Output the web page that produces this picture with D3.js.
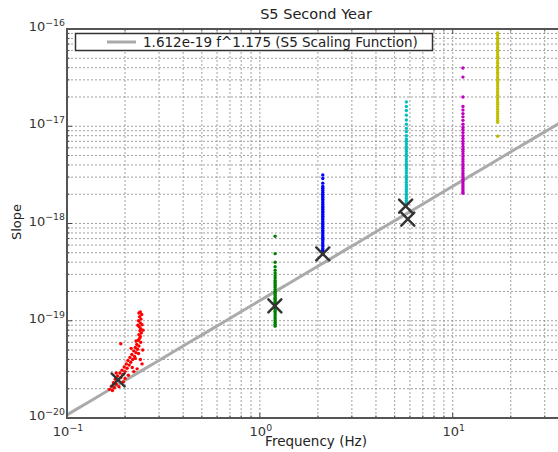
<!DOCTYPE html>
<html>
<head>
<meta charset="utf-8">
<script src="https://cdn.jsdelivr.net/npm/d3@7"></script>
<style>
  body { margin: 0; background: #fff; }
  svg { font-family: 'DejaVu Sans', sans-serif; }
</style>
</head>
<body>
<div id="container"></div>
<script>
// fit: slope = 1.612e-19 * f^1.175
const fitAmp = 1.612e-19;
const fitExp = 1.175;
const legendText = '1.612e-19 f^1.175 (S5 Scaling Function)';

const xTicks = [0.1, 1, 10];
const yTicks = [1e-20, 1e-19, 1e-18, 1e-17, 1e-16];

// red cluster: [frequency, slope in 1e-20]
const redPoints = [
  [0.240, 12.3], [0.236, 12.0], [0.244, 11.6], [0.238, 11.0], [0.242, 10.4],
  [0.235, 10.0], [0.240, 9.5], [0.245, 9.1], [0.237, 8.7], [0.241, 8.3],
  [0.239, 7.9], [0.243, 7.5], [0.236, 7.2], [0.240, 6.9], [0.238, 6.6],
  [0.234, 6.3], [0.241, 6.0], [0.230, 5.7], [0.236, 5.5], [0.226, 5.3],
  [0.232, 5.1], [0.222, 4.9], [0.228, 4.7], [0.217, 4.5], [0.224, 4.3],
  [0.212, 4.2], [0.219, 4.0], [0.207, 3.9], [0.214, 3.75], [0.203, 3.6],
  [0.210, 3.5], [0.198, 3.35], [0.205, 3.25], [0.193, 3.1], [0.200, 3.0],
  [0.188, 2.9], [0.195, 2.8], [0.183, 2.7], [0.190, 2.6], [0.178, 2.5],
  [0.185, 2.42], [0.174, 2.3], [0.180, 2.22], [0.170, 2.12], [0.176, 2.05],
  [0.166, 1.97], [0.172, 1.92], [0.190, 5.8], [0.240, 4.0], [0.231, 3.2],
  [0.245, 3.6], [0.226, 4.1], [0.218, 3.3], [0.208, 2.75], [0.196, 2.35],
  [0.215, 5.2], [0.228, 6.2], [0.247, 5.0], [0.200, 2.55], [0.186, 2.1],
  [0.222, 3.0], [0.235, 4.6], [0.180, 2.9], [0.248, 8.0], [0.233, 9.0]
];

// vertical columns: one frequency, slopes read top to bottom
const greenFreq = 1.2;
const greenSlopes = [7.4, 4.9, 4.0, 3.6, 3.3, 3.1, 2.9, 2.75, 2.6, 2.5, 2.4, 2.3,
  2.2, 2.1, 2.0, 1.95, 1.9, 1.82, 1.75, 1.7, 1.65, 1.6, 1.55, 1.5, 1.45, 1.4,
  1.35, 1.3, 1.25, 1.2, 1.15, 1.1, 1.05, 1.0, 0.96, 0.92, 0.88]; // 1e-19

const blueFreq = 2.12;
const blueSlopes = [3.15, 2.9, 2.6, 2.4, 2.3, 2.2, 2.1, 2.0, 1.92, 1.85, 1.78,
  1.7, 1.63, 1.57, 1.5, 1.45, 1.4, 1.34, 1.29, 1.24, 1.19, 1.14, 1.1, 1.05,
  1.01, 0.97, 0.93, 0.89, 0.85, 0.82, 0.78, 0.75, 0.72, 0.69, 0.66, 0.63, 0.6,
  0.58, 0.55, 0.53, 0.51, 0.49]; // 1e-18

const cyanFreq = 5.75;
const cyanSlopes = [1.78, 1.6, 1.45, 1.3, 1.16, 1.05, 0.95, 0.88, 0.8, 0.74,
  0.7, 0.66, 0.62, 0.58, 0.55, 0.52, 0.49, 0.46, 0.435, 0.41, 0.39, 0.37, 0.35,
  0.33, 0.31, 0.295, 0.28, 0.265, 0.25, 0.237, 0.225, 0.213, 0.202, 0.192,
  0.182, 0.173, 0.165, 0.158]; // 1e-17

const magentaFreq = 11.3;
const magentaSlopes = [3.97, 3.2, 2.0, 1.6, 1.47, 1.35, 1.25, 1.15, 1.05, 0.97,
  0.92, 0.86, 0.8, 0.75, 0.7, 0.66, 0.62, 0.58, 0.55, 0.52, 0.49, 0.46, 0.435,
  0.41, 0.39, 0.37, 0.35, 0.33, 0.315, 0.3, 0.285, 0.27, 0.257, 0.245, 0.233,
  0.222, 0.212, 0.205]; // 1e-17

const yellowFreq = 17.1;
const yellowSlopes = [9.1, 8.6, 8.1, 7.7, 7.3, 6.9, 6.5, 6.2, 5.85, 5.55, 5.25,
  5.0, 4.7, 4.45, 4.2, 4.0, 3.8, 3.6, 3.4, 3.2, 3.05, 2.9, 2.75, 2.6, 2.45, 2.32,
  2.2, 2.08, 1.97, 1.87, 1.77, 1.68, 1.59, 1.5, 1.42, 1.35, 1.28, 1.21, 1.15,
  1.1, 0.79]; // 1e-17

// black crosses: [frequency, slope]
const crosses = [[0.184, 2.46e-20], [1.196, 1.42e-19], [2.12, 4.86e-19],
  [5.7, 1.51e-18], [5.85, 1.11e-18]];

const width = 558, height = 452;
const margin = { top: 29, left: 67, bottom: 34 };

let svg = d3.select('#container').append('svg')
  .attr('width', width)
  .attr('height', height);

let x = d3.scaleLog().domain([0.1, 36]).range([margin.left, 560]);
let y = d3.scaleLog().domain([1e-20, 1e-16]).range([height - margin.bottom, margin.top]);

main();

function main() {
  drawGrid();
  drawFit();
  drawPoints();
  drawFrame();
  drawLegend();
  drawText();
}

function minorValues(scale) {
  let [a, b] = scale.domain();
  let out = [];
  for (let e = Math.floor(Math.log10(a)); e <= Math.ceil(Math.log10(b)); e++) {
    for (let k = 1; k < 10; k++) {
      let v = k * Math.pow(10, e);
      if (v >= a * 0.999 && v <= b * 1.001) out.push(v);
    }
  }
  return out;
}

function drawGrid() {
  let g = svg.append('g').attr('class', 'grid')
    .attr('stroke', '#888')
    .attr('stroke-width', 0.8)
    .attr('stroke-dasharray', '2,2');

  g.selectAll('.gx').data(minorValues(x)).enter().append('line')
    .attr('x1', (d) => x(d)).attr('x2', (d) => x(d))
    .attr('y1', y.range()[0]).attr('y2', y.range()[1]);

  g.selectAll('.gy').data(minorValues(y)).enter().append('line')
    .attr('y1', (d) => y(d)).attr('y2', (d) => y(d))
    .attr('x1', x.range()[0]).attr('x2', x.range()[1]);
}

function drawFit() {
  let fs = d3.range(-1, Math.log10(36) + 0.01, 0.05).map((e) => Math.pow(10, e));
  let line = d3.line()
    .x((d) => x(d))
    .y((d) => y(fitAmp * Math.pow(d, fitExp)));
  svg.append('path')
    .datum(fs)
    .attr('d', line)
    .attr('fill', 'none')
    .attr('stroke', '#aaa')
    .attr('stroke-width', 3);
}

function drawPoints() {
  let series = [
    { color: '#ff0000', pts: redPoints.map((d) => [d[0], d[1] * 1e-20]) },
    { color: '#008000', pts: greenSlopes.map((s) => [greenFreq, s * 1e-19]) },
    { color: '#0000ff', pts: blueSlopes.map((s) => [blueFreq, s * 1e-18]) },
    { color: '#00bfbf', pts: cyanSlopes.map((s) => [cyanFreq, s * 1e-17]) },
    { color: '#bf00bf', pts: magentaSlopes.map((s) => [magentaFreq, s * 1e-17]) },
    { color: '#bfbf00', pts: yellowSlopes.map((s) => [yellowFreq, s * 1e-17]) }
  ];

  series.forEach((s) => {
    svg.append('g')
      .selectAll('circle')
      .data(s.pts)
      .enter()
      .append('circle')
      .attr('cx', (d) => x(d[0]))
      .attr('cy', (d) => y(d[1]))
      .attr('r', 1.7)
      .attr('fill', s.color);
  });

  let cg = svg.append('g')
    .attr('stroke', '#333')
    .attr('stroke-width', 2.5)
    .attr('stroke-linecap', 'round');
  cg.selectAll('path')
    .data(crosses)
    .enter()
    .append('path')
    .attr('d', (d) => {
      let cx = x(d[0]), cy = y(d[1]), r = 6.5;
      return `M${cx - r},${cy - r}L${cx + r},${cy + r}M${cx - r},${cy + r}L${cx + r},${cy - r}`;
    });
}

function drawFrame() {
  let [x0, x1] = x.range();
  let [y0, y1] = y.range();

  let ticks = svg.append('g').attr('stroke', '#444').attr('stroke-width', 1);
  let minorX = minorValues(x);
  let minorY = minorValues(y);

  ticks.selectAll('.tx').data(minorX).enter().append('line')
    .attr('x1', (d) => x(d)).attr('x2', (d) => x(d))
    .attr('y1', y0).attr('y2', (d) => y0 - (xTicks.includes(d) ? 5 : 2.5));
  ticks.selectAll('.tx2').data(minorX).enter().append('line')
    .attr('x1', (d) => x(d)).attr('x2', (d) => x(d))
    .attr('y1', y1).attr('y2', (d) => y1 + (xTicks.includes(d) ? 5 : 2.5));
  ticks.selectAll('.ty').data(minorY).enter().append('line')
    .attr('y1', (d) => y(d)).attr('y2', (d) => y(d))
    .attr('x1', x0).attr('x2', (d) => x0 + (yTicks.includes(d) ? 5 : 2.5));

  svg.append('rect')
    .attr('x', x0).attr('y', y1)
    .attr('width', x1 - x0).attr('height', y0 - y1)
    .attr('fill', 'none')
    .attr('stroke', '#555')
    .attr('stroke-width', 2);
}

function drawLegend() {
  let g = svg.append('g');
  g.append('rect')
    .attr('x', 75.5).attr('y', 33.5)
    .attr('width', 357).attr('height', 17)
    .attr('fill', '#fff')
    .attr('stroke', '#333')
    .attr('stroke-width', 1.5);
  g.append('line')
    .attr('x1', 107).attr('x2', 136)
    .attr('y1', 42).attr('y2', 42)
    .attr('stroke', '#aaa')
    .attr('stroke-width', 3);
  g.append('text')
    .attr('x', 143).attr('y', 47)
    .attr('font-size', 13.5)
    .attr('fill', '#222')
    .text(legendText);
}

function powLabel(sel, exp) {
  sel.append('tspan').text('10');
  sel.append('tspan')
    .attr('dy', '-0.55em')
    .attr('font-size', '0.72em')
    .text(exp);
}

function drawText() {
  let [y0, y1] = y.range();

  svg.append('g').selectAll('text')
    .data(xTicks)
    .enter()
    .append('text')
    .attr('x', (d) => x(d) + 1)
    .attr('y', y0 + 18)
    .attr('text-anchor', 'middle')
    .attr('font-size', 13)
    .attr('fill', '#333')
    .each(function(d) { powLabel(d3.select(this), String(Math.round(Math.log10(d))).replace('-', '\u2212')); });

  svg.append('g').selectAll('text')
    .data(yTicks)
    .enter()
    .append('text')
    .attr('x', margin.left - 2)
    .attr('y', (d) => y(d) + 2)
    .attr('text-anchor', 'end')
    .attr('font-size', 13)
    .attr('fill', '#333')
    .each(function(d) { powLabel(d3.select(this), String(Math.round(Math.log10(d))).replace('-', '\u2212')); });

  svg.append('text')
    .attr('x', 316).attr('y', 19)
    .attr('text-anchor', 'middle')
    .attr('font-size', 14.5)
    .attr('fill', '#222')
    .text('S5 Second Year');

  svg.append('text')
    .attr('x', 316).attr('y', 446)
    .attr('text-anchor', 'middle')
    .attr('font-size', 13.5)
    .attr('fill', '#222')
    .text('Frequency (Hz)');

  svg.append('text')
    .attr('transform', 'translate(21,222) rotate(-90)')
    .attr('text-anchor', 'middle')
    .attr('font-size', 13)
    .attr('fill', '#222')
    .text('Slope');
}
</script>
</body>
</html>
